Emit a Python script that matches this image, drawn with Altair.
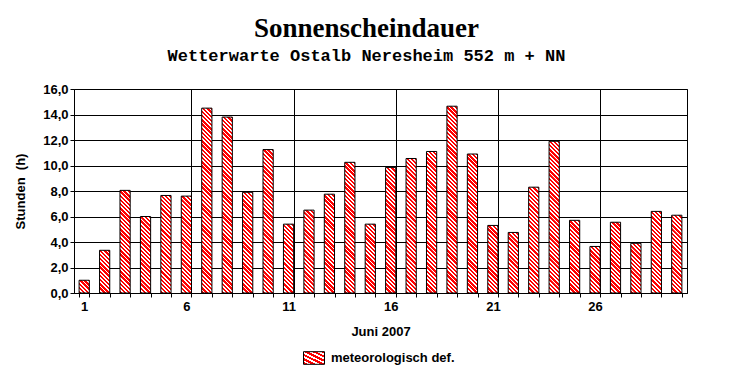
import altair as alt
import pandas as pd

days = list(range(1, 31))
hours = [1.0, 3.35, 8.05, 6.0, 7.65, 7.6, 14.5, 13.8, 7.9, 11.25,
         5.4, 6.5, 7.75, 10.25, 5.4, 9.85, 10.55, 11.1, 14.65, 10.9,
         5.3, 4.75, 8.3, 11.9, 5.7, 3.65, 5.55, 3.9, 6.4, 6.1]
series_name = "meteorologisch def."
y_ticks = [0, 2, 4, 6, 8, 10, 12, 14, 16]

df = pd.DataFrame({"day": days, "hours": hours, "series": series_name})

W, H = 613, 204
YMAX = 16
BAR_W = 10.216
PERIOD = 4.2
RED_FRAC = 0.55
RED = "#ff0000"
WHITE = "#ffffff"


def hatch(value):
    """Diagonal red/white hatch as a striped linear gradient for one bar."""
    h = max(value / YMAX * H, 1.0)
    w = BAR_W
    L = w + h
    s = L / (w * w + h * h)
    stops = []
    n = int(L // PERIOD) + 1
    eps = 0.0004
    for k in range(n):
        a = min(k * PERIOD / L, 1.0)
        b = min((k + RED_FRAC) * PERIOD / L, 1.0)
        c = min((k + 1) * PERIOD / L - eps, 1.0)
        stops += [{"offset": round(a, 6), "color": RED},
                  {"offset": round(b, 6), "color": RED},
                  {"offset": round(min(b + eps, 1.0), 6), "color": WHITE},
                  {"offset": round(c, 6), "color": WHITE}]
    return {"gradient": "linear", "stops": stops,
            "x1": 0, "y1": 1, "x2": round(s * w, 6), "y2": round(1 - s * h, 6)}


x_enc = alt.X(
    "day:O",
    scale=alt.Scale(domain=days, paddingInner=0.5, paddingOuter=0.25),
    axis=alt.Axis(
        title="Juni 2007",
        tickBand="extent",
        labelAngle=0,
        labelExpr="datum.value % 5 == 1 ? datum.label : ''",
        grid=True,
        gridColor="black",
        gridOpacity={"condition": {"test": "datum.value % 5 == 1 && datum.value > 1", "value": 1}, "value": 0},
        tickSize=4,
        labelPadding=3,
        titlePadding=12,
    ),
)

y_enc = alt.Y(
    "hours:Q",
    scale=alt.Scale(domain=[0, 16], nice=False),
    axis=alt.Axis(
        title="Stunden \u00a0(h)",
        values=y_ticks,
        format=".1f",
        labelExpr="replace(datum.label, '.', ',')",
        grid=True,
        gridColor="black",
        tickSize=4,
        labelPadding=2,
        titlePadding=15,
    ),
)

stroke_enc = alt.Stroke(
    "series:N",
    scale=alt.Scale(range=["black"]),
    legend=alt.Legend(
        title=None,
        orient="none",
        legendX=229,
        legendY=258,
        symbolType="M-1,-0.6H1V0.6H-1Z",
        symbolSize=441,
        symbolFillColor="#ff4a4a",
        symbolStrokeWidth=1,
        labelFont="Liberation Sans",
        labelFontSize=13,
        labelFontWeight="bold",
        labelColor="black",
        labelOffset=6,
    ),
)

layers = []
for d, v in zip(days, hours):
    layers.append(
        alt.Chart(df)
        .transform_filter(alt.datum.day == d)
        .mark_bar(fill=hatch(v), strokeWidth=1)
        .encode(x=x_enc, y=y_enc, stroke=stroke_enc)
    )

chart = (
    alt.layer(*layers)
    .properties(
        width=W,
        height=H,
        background="white",
        autosize=alt.AutoSizeParams(type="none"),
        padding={"left": 66, "top": 81, "right": 37, "bottom": 79},
        title=alt.Title(
            "Sonnenscheindauer",
            subtitle="Wetterwarte Ostalb Neresheim 552 m + NN",
            font="Liberation Serif",
            fontSize=27,
            fontWeight="bold",
            color="black",
            subtitleFont="Liberation Mono",
            subtitleFontSize=17,
            subtitleFontWeight="bold",
            subtitleColor="black",
            subtitlePadding=5,
            anchor="middle",
            dx=-14,
            offset=18,
        ),
    )
    .configure_view(stroke="black", strokeWidth=1)
    .configure_axis(
        domainColor="black",
        tickColor="black",
        labelColor="black",
        titleColor="black",
        labelFont="Liberation Sans",
        labelFontSize=13,
        labelFontWeight="bold",
        titleFont="Liberation Sans",
        titleFontSize=13,
        titleFontWeight="bold",
        gridWidth=1,
    )
)

chart.save("out.html", embed_options={"renderer": "svg", "actions": False})
